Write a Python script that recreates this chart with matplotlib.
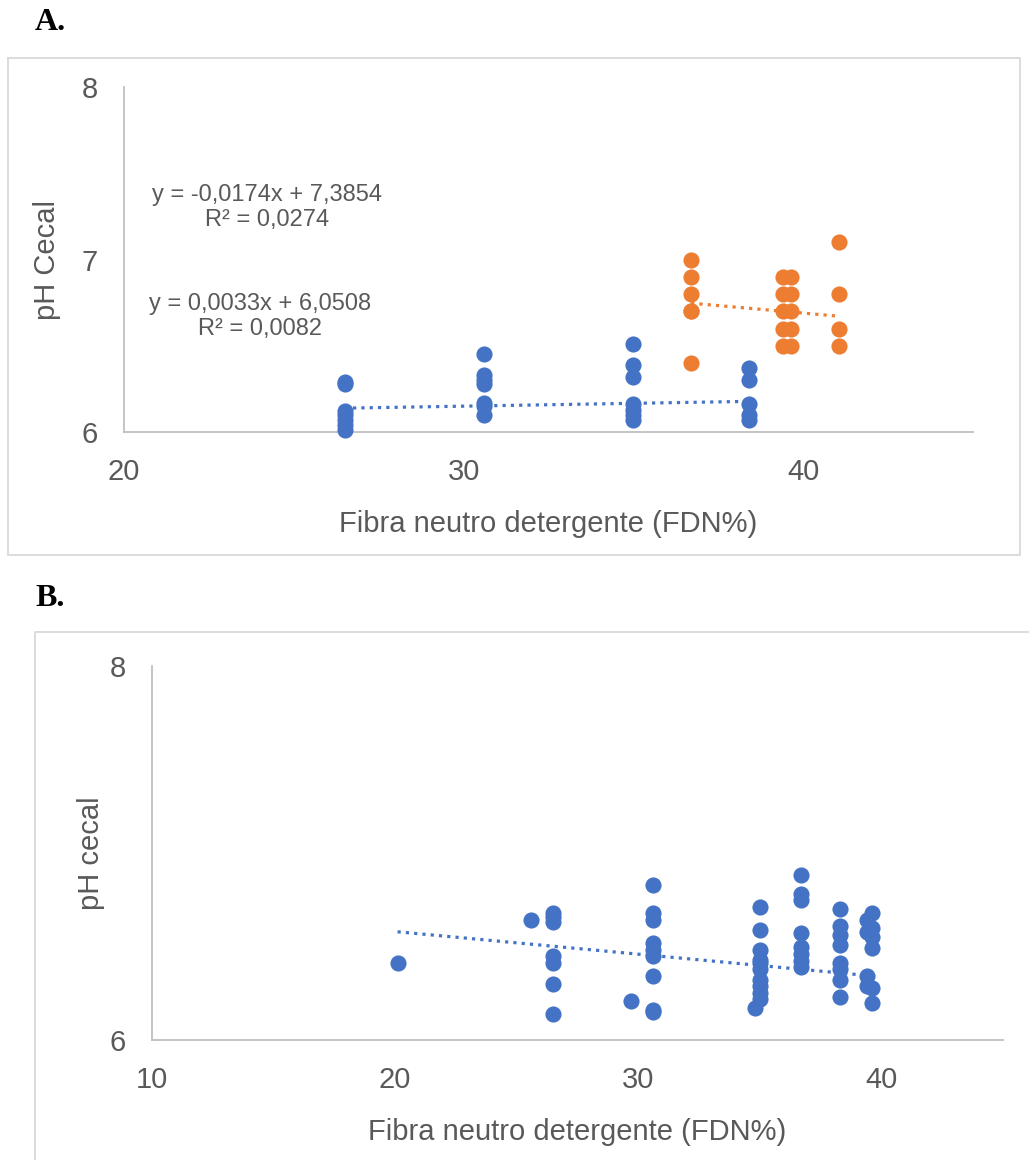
import matplotlib
matplotlib.use("Agg")
import numpy as np
from matplotlib import pyplot as plt
from matplotlib.lines import Line2D

plt.rcParams['font.family'] = ['Liberation Sans', 'DejaVu Sans']

BLUE = '#4472C4'
ORANGE = '#ED7D31'
GREY_TXT = '#595959'
AXIS_COL = '#BFBFBF'
FRAME_COL = '#D9D9D9'

# ---- panel A data ----
a_blue_x = [26.5] * 7 + [30.6] * 7 + [35.0] * 7 + [38.4] * 5
a_blue_y = [6.29, 6.28, 6.12, 6.10, 6.07, 6.04, 6.01,
            6.45, 6.33, 6.30, 6.28, 6.17, 6.15, 6.10,
            6.51, 6.39, 6.32, 6.16, 6.13, 6.10, 6.07,
            6.37, 6.30, 6.16, 6.10, 6.07]
a_orange_x = [36.7] * 6 + [39.4] * 5 + [39.65] * 5 + [41.05] * 4
a_orange_y = [7.00, 6.90, 6.80, 6.70, 6.70, 6.40,
              6.90, 6.80, 6.70, 6.60, 6.50,
              6.90, 6.80, 6.70, 6.60, 6.50,
              7.10, 6.80, 6.60, 6.50]
a_blue_fit = (0.0033, 6.0508)
a_orange_fit = (-0.0174, 7.3854)
a_blue_eq = "y = 0,0033x + 6,0508\nR² = 0,0082"
a_orange_eq = "y = -0,0174x + 7,3854\nR² = 0,0274"

# ---- panel B data ----
b_x = ([20.1, 25.6] + [26.5] * 7 + [29.7] + [30.6] * 9 + [34.8] + [35.0] * 10
       + [36.7] * 8 + [38.3] * 8 + [39.6] * 6 + [39.4] * 4)
b_y = ([6.41, 6.64]
       + [6.68, 6.66, 6.63, 6.45, 6.41, 6.30, 6.14]
       + [6.21]
       + [6.83, 6.68, 6.64, 6.52, 6.48, 6.45, 6.34, 6.16, 6.15]
       + [6.17]
       + [6.71, 6.59, 6.48, 6.43, 6.41, 6.38, 6.32, 6.29, 6.25, 6.22]
       + [6.88, 6.78, 6.75, 6.57, 6.50, 6.46, 6.42, 6.39]
       + [6.70, 6.61, 6.56, 6.51, 6.41, 6.38, 6.32, 6.23]
       + [6.68, 6.60, 6.55, 6.49, 6.28, 6.20]
       + [6.64, 6.58, 6.34, 6.29])
b_fit = (-0.0121, 6.822)

W, H = 1029, 1160
fig = plt.figure(figsize=(W / 100, H / 100), dpi=100)


def box(l, t, r, b):
    # pixel box -> figure fraction rect
    return [l / W, 1 - b / H, (r - l) / W, (b - t) / H]


def style_axes(ax, xlim, xticks, yticks, ylabel, xlabel, ypad):
    ax.set_xlim(*xlim)
    ax.set_ylim(6, 8)
    ax.set_xticks(xticks)
    ax.set_yticks(yticks)
    for s in ['top', 'right']:
        ax.spines[s].set_visible(False)
    for s in ['left', 'bottom']:
        ax.spines[s].set_color(AXIS_COL)
        ax.spines[s].set_linewidth(1.3)
    ax.tick_params(length=0, labelsize=21, colors=GREY_TXT, pad=19)
    ax.set_ylabel(ylabel, fontsize=21, color=GREY_TXT, labelpad=ypad)
    ax.set_xlabel(xlabel, fontsize=21, color=GREY_TXT, labelpad=17)
    ax.patch.set_alpha(0)


def trend(ax, fit, xs, color):
    xr = np.array([min(xs), max(xs)])
    ax.plot(xr, fit[0] * xr + fit[1], color=color, lw=2.3,
            linestyle=(0, (1, 1.6)), zorder=3)


# frames
fig.add_artist(Line2D([8 / W, 1020 / W, 1020 / W, 8 / W, 8 / W],
                      [1 - 58 / H, 1 - 58 / H, 1 - 555 / H, 1 - 555 / H, 1 - 58 / H],
                      color=FRAME_COL, lw=1.3))
fig.add_artist(Line2D([35 / W, 35 / W, 1029 / W],
                      [0, 1 - 632 / H, 1 - 632 / H], color=FRAME_COL, lw=1.3))

fig.text(35 / W, 1 - 23 / H, "A.", fontsize=23, fontweight='bold',
         family='Liberation Serif', va='center', ha='left')
fig.text(35 / W, 1 - 599 / H, "B.", fontsize=23, fontweight='bold',
         family='Liberation Serif', va='center', ha='left')

# panel A
axA = fig.add_axes(box(124, 87, 973, 432))
style_axes(axA, (20, 45), [20, 30, 40], [6, 7, 8], "pH Cecal",
           "Fibra neutro detergente (FDN%)", 15)
axA.scatter(a_blue_x, a_blue_y, s=135, color=BLUE, lw=0, zorder=4, clip_on=False)
axA.scatter(a_orange_x, a_orange_y, s=135, color=ORANGE, lw=0, zorder=4, clip_on=False)
trend(axA, a_blue_fit, a_blue_x, BLUE)
trend(axA, a_orange_fit, a_orange_x, ORANGE)
axA.text(24.2, 7.30, a_orange_eq, fontsize=17, color=GREY_TXT,
         ha='center', va='center', multialignment='center', linespacing=1.15)
axA.text(24.0, 6.67, a_blue_eq, fontsize=17, color=GREY_TXT,
         ha='center', va='center', multialignment='center', linespacing=1.15)

# panel B
axB = fig.add_axes(box(152, 666, 1003, 1040))
style_axes(axB, (10, 45), [10, 20, 30, 40], [6, 8], "pH cecal",
           "Fibra neutro detergente (FDN%)", 3)
axB.scatter(b_x, b_y, s=135, color=BLUE, lw=0, zorder=4, clip_on=False)
trend(axB, b_fit, b_x, BLUE)

fig.savefig("out.png", dpi=100)
